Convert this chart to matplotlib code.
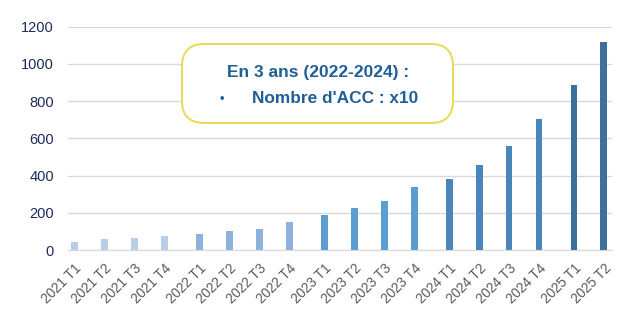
import matplotlib.pyplot as plt
import numpy as np
from matplotlib.patches import FancyBboxPatch

# data
years = [2021, 2021, 2021, 2021, 2022, 2022, 2022, 2022, 2023, 2023, 2023, 2023,
         2024, 2024, 2024, 2024, 2025, 2025]
quarters = ["T1", "T2", "T3", "T4"] * 4 + ["T1", "T2"]
values = [45, 59, 66, 77, 84, 102, 115, 152, 188, 224, 262, 337,
          380, 457, 559, 704, 887, 1116]
year_colors = {2021: "#b8cee8", 2022: "#8fb2dc", 2023: "#5b9cd1",
               2024: "#4a86b9", 2025: "#3c6f9a"}
labels = [f"{y} {q}" for y, q in zip(years, quarters)]

# small gap between years
year_idx = np.array(years) - years[0]
pos = np.arange(len(values)) + year_idx / 6.0
colors = [year_colors[y] for y in years]

plt.rcParams['font.family'] = ['Liberation Sans', 'DejaVu Sans']
fig = plt.figure(figsize=(6.32, 3.28), dpi=100)
ax = fig.add_axes([68 / 632, 1 - 250 / 328, 544 / 632, 223.3 / 328])

ax.bar(pos, values, width=0.23, color=colors, zorder=3)
ax.set_xlim(pos[0] - 0.22, pos[-1] + 0.27)
ax.set_ylim(0, 1200)
ax.set_yticks(range(0, 1201, 200))
ax.yaxis.grid(True, color="#d9d9d9", linewidth=1.0, zorder=0)
for s in ["top", "right", "left"]:
    ax.spines[s].set_visible(False)
ax.spines["bottom"].set_color("#d9d9d9")
ax.spines["bottom"].set_zorder(4)
ax.tick_params(axis="both", length=0)
ax.tick_params(axis="y", labelsize=10.5, labelcolor="#1c2b5a", pad=10)
ax.set_xticks(pos)
ax.set_xticklabels(labels, rotation=45, ha="right", va="top",
                   rotation_mode="anchor", fontsize=9.8, color="#595959")
ax.tick_params(axis="x", pad=8)

# annotation box
box = FancyBboxPatch((182 / 632, 1 - 123 / 328), 271 / 632, 79 / 328,
                     boxstyle="round,pad=0,rounding_size=0.035",
                     mutation_aspect=632 / 328, transform=fig.transFigure,
                     facecolor="white", edgecolor="#e8da50", linewidth=1.4,
                     zorder=5)
fig.add_artist(box)
txt_color = "#1f5f96"
fig.text(318 / 632, 1 - 72 / 328, "En 3 ans (2022-2024) :", ha="center",
         va="center", fontsize=12.5, fontweight="bold", color=txt_color, zorder=6)
fig.text(222 / 632, 1 - 99 / 328, "•", ha="center", va="center",
         fontsize=9, fontweight="bold", color=txt_color, zorder=6)
fig.text(252 / 632, 1 - 99 / 328, "Nombre d'ACC : x10", ha="left",
         va="center", fontsize=12.4, fontweight="bold", color=txt_color, zorder=6)

plt.savefig("out.png", dpi=100)
